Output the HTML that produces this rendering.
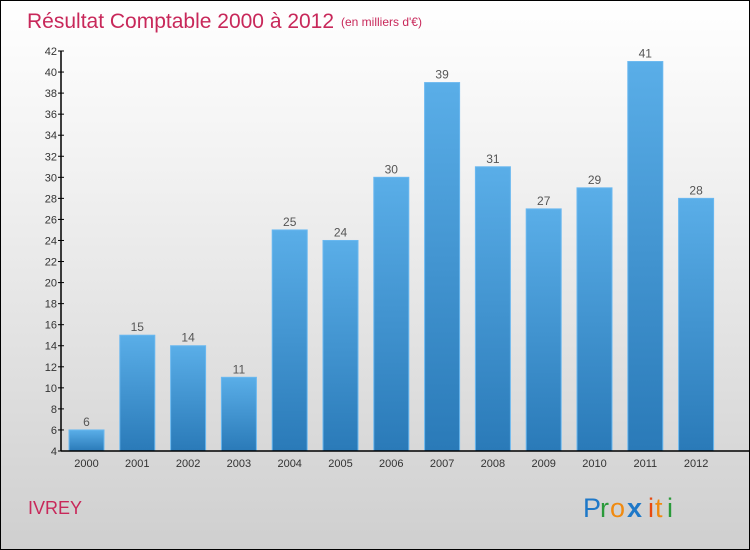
<!DOCTYPE html>
<html><head><meta charset="utf-8"><style>
body{margin:0}
#c{position:relative;width:748px;height:548px;border:1px solid #000;background:linear-gradient(#fff 0%,#f2f2f2 30%,#cfcfcf 100%);font-family:"Liberation Sans",sans-serif;overflow:hidden}
</style></head><body>
<div id="c">
<svg width="748" height="548" id="s">
<defs><linearGradient id="g" x1="0" y1="0" x2="0" y2="1"><stop offset="0" stop-color="#5aaee8"/><stop offset="1" stop-color="#2a7ab8"/></linearGradient></defs>
<text x="26" y="27" font-size="21" fill="#c8285a">Résultat Comptable 2000 à 2012</text>
<text x="340" y="25" font-size="12" fill="#c8285a">(en milliers d'€)</text>
<text x="27" y="513" font-size="18" fill="#c8285a">IVREY</text>
<g font-size="27">
<text x="582" y="516" fill="#1e78c8">P</text><text x="599" y="516" fill="#2a9a3a">r</text><text x="609" y="516" fill="#f08a10">o</text><text x="626" y="516" fill="#1e78c8" font-weight="bold">x</text><text x="647" y="516" fill="#e84a10">i</text><text x="654" y="516" fill="#f08a10">t</text><text x="666" y="516" fill="#2a9a3a">i</text>
</g>
<g id="plot"></g>
</svg>
</div>
<script>
const years=["2000","2001","2002","2003","2004","2005","2006","2007","2008","2009","2010","2011","2012"];
const values=[6,15,14,11,25,24,30,39,31,27,29,41,28];
const yTicks=[4,6,8,10,12,14,16,18,20,22,24,26,28,30,32,34,36,38,40,42];
const NS="http://www.w3.org/2000/svg";
const g=document.getElementById('plot');
const y=v=>450-(v-4)*400/38;
const x=i=>85.5+i*50.8;
function mk(t,a,txt){const e=document.createElementNS(NS,t);for(const k in a)e.setAttribute(k,a[k]);if(txt!==undefined)e.textContent=txt;g.appendChild(e);return e;}
values.forEach((v,i)=>{
 const b=mk('rect',{x:x(i)-17.5,y:y(v),width:35,height:450-y(v),fill:'url(#g)',stroke:'#6ab8f0','stroke-width':1});
 
 
 const t=mk('text',{x:x(i),y:y(v)-4,'text-anchor':'middle','font-size':12,fill:'#555'},String(v));
 
 
 const xl=mk('text',{x:x(i),y:466,'text-anchor':'middle','font-size':11,fill:'#333'},years[i]);
 
 
});
yTicks.forEach(v=>{
 const l=mk('line',{x1:57,x2:63,y1:y(v),y2:y(v),stroke:'#000'});
 
 
 const t=mk('text',{x:56,y:y(v)+4,'text-anchor':'end','font-size':11,fill:'#333'},String(v));
 
 
});
const ya=mk('line',{x1:60,x2:60,y1:50,y2:450,stroke:'#000','stroke-width':1.5});


const xa=mk('line',{x1:60,x2:748,y1:450,y2:450,stroke:'#000','stroke-width':1.5});


</script>
</body></html>
